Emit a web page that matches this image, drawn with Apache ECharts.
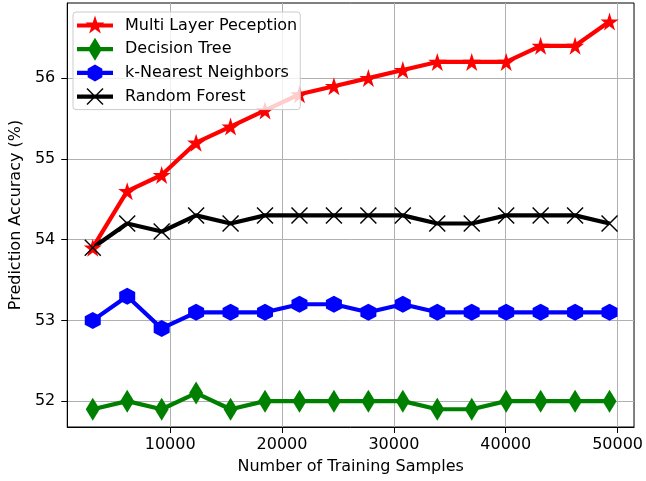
<!DOCTYPE html>
<html><head><meta charset="utf-8">
<script src="https://cdn.jsdelivr.net/npm/echarts@6/dist/echarts.min.js"></script>
<style>html,body{margin:0;padding:0;background:#fff}#c{width:646px;height:481px}</style>
</head><body><div id="c"></div>
<script>
var samples = [3080, 6160, 9240, 12320, 15400, 18480, 21560, 24640, 27720, 30800, 33880, 36960, 40040, 43120, 46200, 49280];
var mlp = [53.9, 54.6, 54.8, 55.2, 55.4, 55.6, 55.8, 55.9, 56.0, 56.1, 56.2, 56.2, 56.2, 56.4, 56.4, 56.7];
var dtree = [51.9, 52.0, 51.9, 52.1, 51.9, 52.0, 52.0, 52.0, 52.0, 52.0, 51.9, 51.9, 52.0, 52.0, 52.0, 52.0];
var knn = [53.0, 53.3, 52.9, 53.1, 53.1, 53.1, 53.2, 53.2, 53.1, 53.2, 53.1, 53.1, 53.1, 53.1, 53.1, 53.1];
var rf = [53.9, 54.2, 54.1, 54.3, 54.2, 54.3, 54.3, 54.3, 54.3, 54.3, 54.2, 54.2, 54.3, 54.3, 54.3, 54.2];
var names = ['Multi Layer Peception', 'Decision Tree', 'k-Nearest Neighbors', 'Random Forest'];
var xTicks = [10000, 20000, 30000, 40000, 50000];
var yTicks = [52, 53, 54, 55, 56];

// marker shapes
var STAR = 'path://M0,-1 L0.2245,-0.309 L0.951,-0.309 L0.363,0.118 L0.588,0.809 L0,0.382 L-0.588,0.809 L-0.363,0.118 L-0.951,-0.309 L-0.2245,-0.309Z';
var HEX = 'path://M0,-1 L0.866,-0.5 L0.866,0.5 L0,1 L-0.866,0.5 L-0.866,-0.5Z';
var XM = 'path://M-1,-0.88 L-0.88,-1 L1,0.88 L0.88,1 Z M0.88,-1 L1,-0.88 L-0.88,1 L-1,0.88 Z';

// legend icons: handle line plus marker; zero-area anchors keep each icon box 36x23
var LINE = 'M18,-11.5 L18.01,-11.5 L18,-11.5 Z M18,11.5 L18.01,11.5 L18,11.5 Z M0,-2.1 L36,-2.1 L36,2.1 L0,2.1 Z ';
var L_STAR = 'path://' + LINE + 'M18,-10 L20.245,-3.09 L27.51,-3.09 L21.63,1.18 L23.88,8.09 L18,3.82 L12.12,8.09 L14.37,1.18 L8.49,-3.09 L15.755,-3.09 Z';
var L_DIAM = 'path://' + LINE + 'M18,-11.5 L25,0 L18,11.5 L11,0 Z';
var L_HEX = 'path://' + LINE + 'M18,-8.5 L25.36,-4.25 L25.36,4.25 L18,8.5 L10.64,4.25 L10.64,-4.25 Z';
var L_X = 'path://' + LINE + 'M9.5,-7.5 L10.5,-8.5 L26.5,7.5 L25.5,8.5 Z M10.5,8.5 L9.5,7.5 L25.5,-8.5 L26.5,-7.5 Z';

function pairs(v){ return samples.map(function(x,i){ return [x, v[i]]; }); }
function mk(name, data, color, symbol, size){
  return {name:name, type:'line', data:pairs(data), symbol:symbol, symbolSize:size, symbolKeepAspect:false,
    lineStyle:{color:color, width:4.2}, itemStyle:{color:color, borderWidth:0}, emphasis:{disabled:true}, z:2, animation:false};
}
var font = 'DejaVu Sans';
var chart = echarts.init(document.getElementById('c'), null, {renderer:'canvas'});
chart.setOption({
  animation:false,
  backgroundColor:'#fff',
  grid:{left:66, right:10, top:3, bottom:54, show:true, borderColor:'#000', borderWidth:1, backgroundColor:'transparent'},
  xAxis:{type:'value', min:800, max:51470,
    name:'Number of Training Samples', nameLocation:'middle', nameGap:32,
    nameTextStyle:{fontFamily:font, fontSize:16, color:'#000'},
    axisLine:{show:true, onZero:false, lineStyle:{color:'#000', width:1}},
    axisTick:{show:true, length:6, customValues:xTicks, lineStyle:{color:'#000'}},
    axisLabel:{customValues:xTicks, margin:10, fontFamily:font, fontSize:16, color:'#000',
      formatter:function(v){ return String(v); }},
    splitLine:{show:true, lineStyle:{color:'#b0b0b0', width:1}}},
  yAxis:{type:'value', min:51.68, max:56.93,
    name:'Prediction Accuracy (%)', nameLocation:'middle', nameGap:38,
    nameTextStyle:{fontFamily:font, fontSize:16, color:'#000'},
    axisLine:{show:true, onZero:false, lineStyle:{color:'#000', width:1}},
    axisTick:{show:true, length:6, customValues:yTicks, lineStyle:{color:'#000'}},
    axisLabel:{customValues:yTicks, margin:12, fontFamily:font, fontSize:16, color:'#000',
      formatter:function(v){ return String(v); }},
    splitLine:{show:true, lineStyle:{color:'#b0b0b0', width:1}}},
  legend:{show:true, orient:'vertical', left:73, top:12,
    data:[{name:names[0], icon:L_STAR},{name:names[1], icon:L_DIAM},{name:names[2], icon:L_HEX},{name:names[3], icon:L_X}],
    itemWidth:36, itemHeight:23, itemGap:0.7, padding:[2,3,1.5,4], symbolKeepAspect:true,
    backgroundColor:'rgba(255,255,255,0.8)', borderColor:'#cccccc', borderWidth:1, borderRadius:3,
    textStyle:{fontFamily:font, fontSize:16, color:'#000', padding:[0,0,0,7]}},
  series:[
    mk(names[0], mlp, '#ff0000', STAR, [18,18]),
    mk(names[1], dtree, '#008000', 'diamond', [14,23]),
    mk(names[2], knn, '#0000ff', HEX, [16,17]),
    mk(names[3], rf, '#000000', XM, [17,17])
  ]
});
</script></body></html>
